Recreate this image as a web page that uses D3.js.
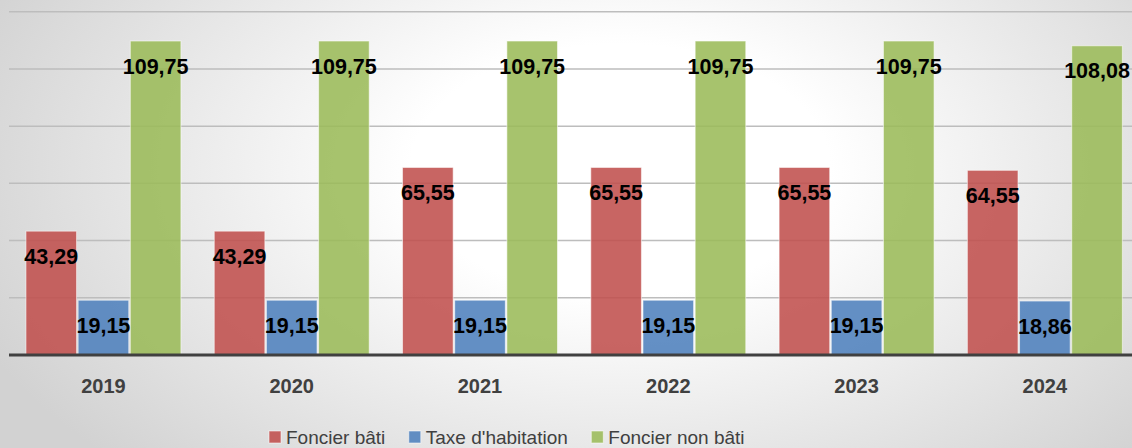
<!DOCTYPE html>
<html>
<head>
<meta charset="utf-8">
<script src="https://cdn.jsdelivr.net/npm/d3@7"></script>
<style>
  html, body { margin: 0; padding: 0; overflow: hidden; }
  svg { display: block; }
</style>
</head>
<body>
<svg id="chart" width="1132" height="448"></svg>
<script>
// Taux d'imposition par année
const years = ["2019", "2020", "2021", "2022", "2023", "2024"];
const seriesNames = ["Foncier bâti", "Taxe d'habitation", "Foncier non bâti"];
const foncierBati = [43.29, 43.29, 65.55, 65.55, 65.55, 64.55];
const taxeHabitation = [19.15, 19.15, 19.15, 19.15, 19.15, 18.86];
const foncierNonBati = [109.75, 109.75, 109.75, 109.75, 109.75, 108.08];
const yTicks = [0, 20, 40, 60, 80, 100, 120];
const colors = ["#c0504d", "#4f81bd", "#9bbb59"];

const seriesValues = [foncierBati, taxeHabitation, foncierNonBati];
const W = 1132, H = 448;
const svg = d3.select("#chart");

// background: soft radial gradient
const defs = svg.append("defs");
const grad = defs.append("radialGradient")
  .attr("id", "bg")
  .attr("gradientUnits", "userSpaceOnUse")
  .attr("cx", 620).attr("cy", 170).attr("r", 700)
  .attr("gradientTransform", "translate(620,170) scale(1,0.6) translate(-620,-170)");
grad.append("stop").attr("offset", "0.3").attr("stop-color", "#ffffff");
grad.append("stop").attr("offset", "1").attr("stop-color", "#d2d2d2");
svg.append("rect").attr("width", W).attr("height", H).attr("fill", "url(#bg)");

const x = d3.scaleBand().domain(years).range([9.3, 1139])
  .paddingInner(0.177).paddingOuter(0.0885);
const xs = d3.scaleBand().domain(d3.range(3)).range([0, x.bandwidth()]).paddingInner(0.03);
const y = d3.scaleLinear().domain([0, 120]).range([355, 11.7]);

// gridlines
svg.append("g")
  .selectAll("line")
  .data(yTicks.filter(t => t > 0))
  .join("line")
  .attr("x1", 9).attr("x2", W)
  .attr("y1", d => y(d)).attr("y2", d => y(d))
  .attr("stroke", "#bdbdbd").attr("stroke-width", 1.5);

// bars
const groups = svg.append("g")
  .selectAll("g")
  .data(years)
  .join("g")
  .attr("transform", d => `translate(${x(d)},0)`);

groups.selectAll("rect")
  .data((d, i) => seriesValues.map((s, k) => ({ k, v: s[i] })))
  .join("rect")
  .attr("x", d => xs(d.k))
  .attr("width", xs.bandwidth())
  .attr("y", d => y(d.v))
  .attr("height", d => y(0) - y(d.v))
  .attr("fill", d => colors[d.k])
  .attr("fill-opacity", 0.88)
  .attr("stroke", "rgba(255,255,255,0.55)")
  .attr("stroke-width", 1);

// baseline
svg.append("line")
  .attr("x1", 9).attr("x2", W)
  .attr("y1", y(0)).attr("y2", y(0))
  .attr("stroke", "#404040").attr("stroke-width", 3);

// value labels
groups.selectAll("text.val")
  .data((d, i) => seriesValues.map((s, k) => ({ k, v: s[i] })))
  .join("text")
  .attr("class", "val")
  .attr("x", d => xs(d.k) + xs.bandwidth() / 2)
  .attr("y", d => y(d.v) + 32.5)
  .attr("text-anchor", "middle")
  .attr("font-family", "'Liberation Sans', Arial, sans-serif")
  .attr("font-weight", "bold")
  .attr("font-size", 21.5)
  .attr("fill", "#000")
  .text(d => d3.format(".2f")(d.v).replace(".", ","));

// category axis labels
svg.append("g")
  .selectAll("text")
  .data(years)
  .join("text")
  .attr("x", d => x(d) + x.bandwidth() / 2)
  .attr("y", 392.5)
  .attr("text-anchor", "middle")
  .attr("font-family", "'Liberation Sans', Arial, sans-serif")
  .attr("font-weight", "bold")
  .attr("font-size", 20)
  .attr("fill", "#404040")
  .text(d => d);

// legend
const legend = svg.append("g");
let lx = 269;
seriesNames.forEach((name, k) => {
  legend.append("rect")
    .attr("x", lx).attr("y", 431).attr("width", 12).attr("height", 12)
    .attr("fill", colors[k]).attr("fill-opacity", 0.88)
    .attr("stroke", "rgba(255,255,255,0.55)");
  const t = legend.append("text")
    .attr("x", lx + 17).attr("y", 443.5)
    .attr("font-family", "'Liberation Sans', Arial, sans-serif")
    .attr("font-size", 19)
    .attr("fill", "#404040")
    .text(name);
  lx += 17 + t.node().getComputedTextLength() + 23.5;
});
</script>
</body>
</html>
